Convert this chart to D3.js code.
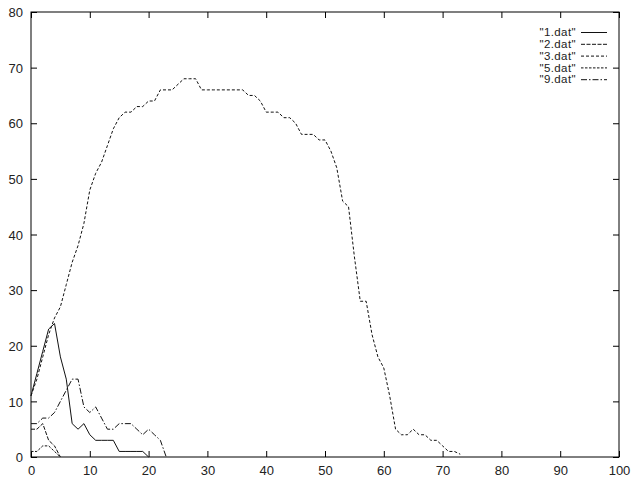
<!DOCTYPE html>
<html>
<head>
<meta charset="utf-8">
<script src="https://d3js.org/d3.v7.min.js"></script>
<style>
	body { margin: 0; background: #fff; }
	text { font-family: "Liberation Sans", Arial, sans-serif; }
</style>
</head>
<body>
<script>
var seriesNames = ['"1.dat"', '"2.dat"', '"3.dat"', '"5.dat"', '"9.dat"'];
var seriesDash = ['none', '4,1.5', '3,2', '2.5,1.5', '6,2,1.5,2'];

var x1 = [0,1,2,3,4,5,6,7,8,9,10,11,12,13,14,15,16,17,18,19,20];
var y1 = [11,15,19,23,24,18,14,6,5,6,4,3,3,3,3,1,1,1,1,1,0];

var x2 = [0,1,2,3,4,5];
var y2 = [5,5,6,3,2,0];

var x3 = [0,1,2,3,4,5,6,7,8,9,10,11,12,13,14,15,16,17,18,19,20,
	21,22,23,24,25,26,27,28,29,30,31,32,33,34,35,36,37,38,39,40,
	41,42,43,44,45,46,47,48,49,50,51,52,53,54,55,56,57,58,59,60,
	61,62,63,64,65,66,67,68,69,70,71,72,73];
var y3 = [11,14,18,22,25,27,31,35,38,42,48,51,53,56,59,61,62,62,63,63,64,
	64,66,66,66,67,68,68,68,66,66,66,66,66,66,66,66,65,65,64,62,
	62,62,61,61,60,58,58,58,57,57,55,52,46,45,36,28,28,22,18,16,
	11,5,4,4,5,4,4,3,3,2,1,1,0.5];

var x5 = [0,1,2,3,4,5];
var y5 = [1,1,2,2,1,0];

var x9 = [0,1,2,3,4,5,6,7,8,9,10,11,12,13,14,15,16,17,18,19,20,21,22,23];
var y9 = [6,6,7,7,8,10,12,14,14,9,8,9,7,5,5,6,6,6,5,4,5,4,3,0];

var xTicks = [0,10,20,30,40,50,60,70,80,90,100];
var yTicks = [0,10,20,30,40,50,60,70,80];

var svgConfig = {
	width: 632,
	height: 477,
	marginLeft: 31,
	marginRight: 13,
	marginTop: 12,
	marginBottom: 20
}

var allX = [x1, x2, x3, x5, x9];
var allY = [y1, y2, y3, y5, y9];

var svg =
	d3.select('body')
	.append('svg')
	.attr('width', svgConfig.width)
	.attr('height', svgConfig.height);

var xScale =
	d3.scaleLinear()
	.domain([0, 100])
	.range([svgConfig.marginLeft, svgConfig.width - svgConfig.marginRight]);
var yScale =
	d3.scaleLinear()
	.domain([0, 80])
	.range([svgConfig.height - svgConfig.marginBottom, svgConfig.marginTop]);

// frame
svg.append('rect')
	.attr('x', xScale(0))
	.attr('y', yScale(80))
	.attr('width', xScale(100) - xScale(0))
	.attr('height', yScale(0) - yScale(80))
	.attr('fill', 'none')
	.attr('stroke', '#000')
	.attr('stroke-width', 1);

// axes, ticks pointing inward on all four sides
function styleAxis(g) {
	g.select('.domain').remove();
	g.selectAll('line').attr('stroke', '#000');
	g.selectAll('text')
		.attr('fill', '#222')
		.style('font-size', '13px');
}
svg.append('g')
	.attr('transform', 'translate(0,' + yScale(0) + ')')
	.call(d3.axisBottom(xScale).tickValues(xTicks).tickSizeInner(-6).tickSizeOuter(0).tickPadding(9))
	.call(styleAxis);
svg.append('g')
	.attr('transform', 'translate(0,' + yScale(80) + ')')
	.call(d3.axisTop(xScale).tickValues(xTicks).tickSizeInner(-6).tickSizeOuter(0).tickFormat(''))
	.call(styleAxis);
svg.append('g')
	.attr('transform', 'translate(' + xScale(0) + ',0)')
	.call(d3.axisLeft(yScale).tickValues(yTicks).tickSizeInner(-6).tickSizeOuter(0).tickPadding(8))
	.call(styleAxis)
	.selectAll('text').attr('dy', '0.36em');
svg.append('g')
	.attr('transform', 'translate(' + xScale(100) + ',0)')
	.call(d3.axisRight(yScale).tickValues(yTicks).tickSizeInner(-6).tickSizeOuter(0).tickFormat(''))
	.call(styleAxis);

// data lines
var line = d3.line()
	.x(function (d) { return xScale(d[0]); })
	.y(function (d) { return yScale(d[1]); });

svg.selectAll('.dataLine')
	.data(d3.range(seriesNames.length))
	.enter()
	.append('path')
	.attr('class', 'dataLine')
	.attr('d', function (i) {
		return line(d3.zip(allX[i], allY[i]));
	})
	.attr('fill', 'none')
	.attr('stroke', '#111')
	.attr('stroke-width', 1)
	.attr('stroke-dasharray', function (i) { return seriesDash[i]; });

// legend
var legend = svg.append('g')
	.attr('class', 'legend')
	.attr('transform', 'translate(0,32)');
var rows = legend.selectAll('.row')
	.data(seriesNames)
	.enter()
	.append('g')
	.attr('class', 'row')
	.attr('transform', function (d, i) { return 'translate(0,' + (i * 11.8) + ')'; });
rows.append('text')
	.attr('x', 576)
	.attr('dy', '0.36em')
	.attr('text-anchor', 'end')
	.attr('fill', '#222')
	.style('font-size', '11.5px')
	.style('letter-spacing', '0.4px')
	.text(function (d) { return d; });
rows.append('line')
	.attr('x1', 581)
	.attr('x2', 607)
	.attr('y1', 0.5)
	.attr('y2', 0.5)
	.attr('stroke', '#111')
	.attr('stroke-width', 1)
	.attr('stroke-dasharray', function (d, i) { return seriesDash[i]; });
</script>
</body>
</html>
